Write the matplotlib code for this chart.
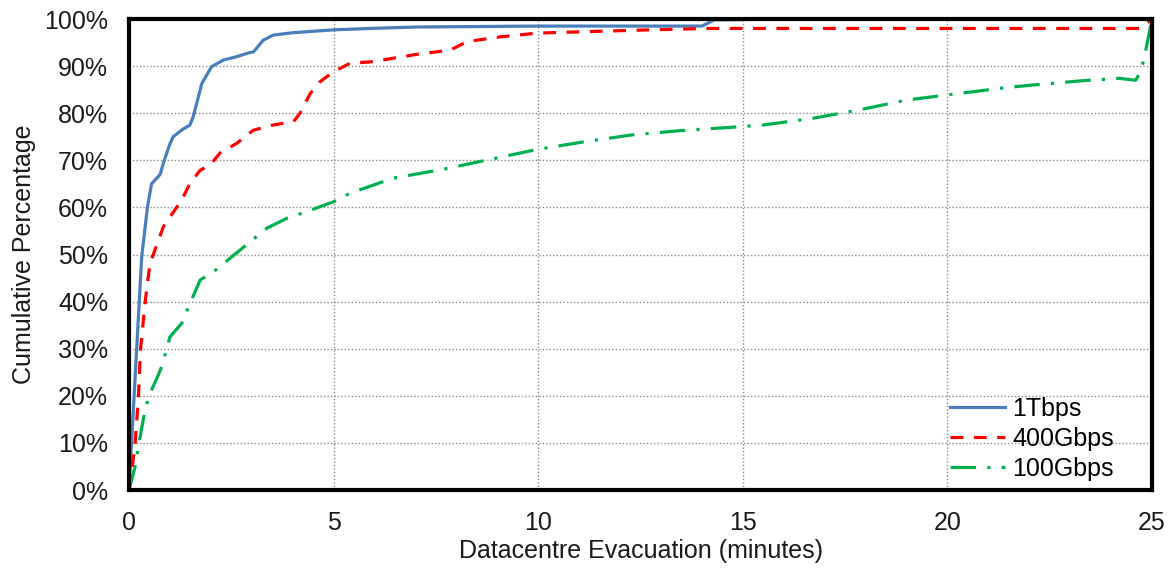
import matplotlib
matplotlib.use("Agg")
import matplotlib.pyplot as plt
from matplotlib.ticker import FuncFormatter

plt.rcParams['font.family'] = ['Liberation Sans', 'DejaVu Sans']

# 1Tbps
x_1t = [0, 0.15, 0.31, 0.45, 0.55, 0.76, 0.84, 1.0, 1.08, 1.3, 1.49, 1.57, 1.78, 2.02,
        2.31, 2.63, 2.92, 3.04, 3.28, 3.53, 4.02, 5.0, 5.9, 7.0, 10.0, 14.0, 14.3, 16.0, 25.0]
y_1t = [0, 24, 49.5, 60, 65, 67, 69.4, 73.5, 75, 76.5, 77.5, 79.3, 86.3, 89.9,
        91.3, 92, 92.8, 93, 95.5, 96.6, 97.1, 97.7, 98, 98.3, 98.5, 98.5, 99.8, 100, 100]

# 400Gbps
x_400 = [0, 0.07, 0.15, 0.23, 0.28, 0.39, 0.51, 0.84, 1.17, 1.29, 1.49, 1.74, 1.98, 2.22,
         2.63, 3.04, 3.53, 4.02, 4.18, 4.43, 4.67, 5.0, 5.4, 5.9, 6.2, 7.03, 7.85, 8.26,
         9.07, 9.97, 11.1, 12.74, 14.2, 24.7, 25.0]
y_400 = [0, 4.2, 9.9, 19.8, 29.7, 39.6, 48, 55.9, 60.1, 61.6, 65.1, 67.9, 69, 71.5,
         73.6, 76.4, 77.5, 78.2, 80, 84.2, 86.7, 88.8, 90.6, 90.9, 91.3, 92.5, 93.4, 95.2,
         96.2, 97, 97.3, 97.7, 98, 98, 100]

# 100Gbps
x_100 = [0, 0.15, 0.23, 0.39, 0.51, 0.68, 0.8, 1.0, 1.29, 1.49, 1.74, 2.06, 2.47, 2.96,
         3.37, 3.86, 4.34, 5.0, 5.4, 6.45, 7.68, 8.83, 9.97, 11.1, 12.3, 13.47, 14.7, 15.5,
         16.7, 17.9, 19.0, 20.2, 21.4, 22.1, 23.3, 24.2, 24.6, 24.7, 24.8, 25.0]
y_100 = [0, 5, 9.2, 17, 20.5, 23.7, 26.2, 32.5, 35.4, 39.6, 44.6, 46.3, 49.2, 52.7,
         55.6, 57.7, 59.1, 61.2, 63, 66.2, 68.1, 70.2, 72.3, 73.9, 75.4, 76.3, 77, 77.5,
         78.9, 80.8, 82.8, 84.1, 85.4, 86, 86.9, 87.4, 87, 88.5, 91.3, 100]

series_labels = ['1Tbps', '400Gbps', '100Gbps']
x_ticks = [0, 5, 10, 15, 20, 25]
y_ticks = list(range(0, 101, 10))

fig = plt.figure(figsize=(11.76, 5.76), dpi=100)
ax = fig.add_axes([0.1097, 0.1493, 0.8699, 0.8177])

ax.plot(x_1t, y_1t, color='#4A7EBB', lw=2.3, label=series_labels[0], zorder=3)
ax.plot(x_400, y_400, color='#FF0000', lw=2.3, dashes=(4, 3.3), label=series_labels[1], zorder=3)
ax.plot(x_100, y_100, color='#00B050', lw=2.3, dashes=(8, 3.5, 1, 3.5), label=series_labels[2], zorder=3)

ax.set_xlim(0, 25)
ax.set_ylim(0, 100)
ax.set_xticks(x_ticks)
ax.set_yticks(y_ticks)
ax.yaxis.set_major_formatter(FuncFormatter(lambda v, p: f"{int(v)}%"))
ax.grid(True, color='#8c8c8c', linestyle=(0, (1, 1.5)), linewidth=1.0, zorder=1)
ax.tick_params(length=0, labelsize=18, colors='#1a1a1a')
ax.tick_params(axis='x', pad=15)
ax.tick_params(axis='y', pad=15)
for s in ax.spines.values():
    s.set_linewidth(3)
    s.set_color('black')
    s.set_zorder(4)

ax.set_xlabel('Datacentre Evacuation (minutes)', fontsize=18, color='#1a1a1a', labelpad=3)
ax.set_ylabel('Cumulative Percentage', fontsize=18, color='#1a1a1a', labelpad=6)

leg = ax.legend(loc='upper left', frameon=False, fontsize=18, handlelength=2.2,
                handletextpad=0.28, borderaxespad=0, borderpad=0, labelspacing=0.24,
                bbox_to_anchor=(0.8025, 0.197))

fig.savefig('out.png', dpi=100)
